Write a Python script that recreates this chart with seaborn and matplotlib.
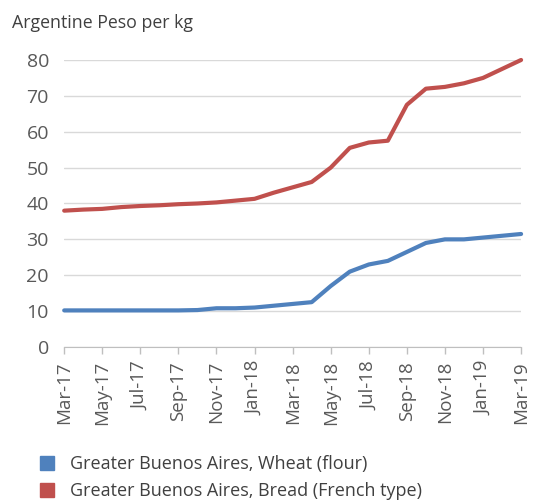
import numpy as np
import pandas as pd
import matplotlib
matplotlib.use("Agg")
import matplotlib.pyplot as plt
from matplotlib.lines import Line2D
import seaborn as sns

MONTHS = ['Mar-17', 'Apr-17', 'May-17', 'Jun-17', 'Jul-17', 'Aug-17', 'Sep-17',
          'Oct-17', 'Nov-17', 'Dec-17', 'Jan-18', 'Feb-18', 'Mar-18', 'Apr-18',
          'May-18', 'Jun-18', 'Jul-18', 'Aug-18', 'Sep-18', 'Oct-18', 'Nov-18',
          'Dec-18', 'Jan-19', 'Feb-19', 'Mar-19']

WHEAT = [10.2, 10.2, 10.2, 10.2, 10.2, 10.2, 10.2, 10.3, 10.8, 10.8, 11.0,
         11.5, 12.0, 12.5, 17.0, 21.0, 23.0, 24.0, 26.5, 29.0, 30.0, 30.0,
         30.5, 31.0, 31.5]
BREAD = [38.0, 38.3, 38.5, 39.0, 39.3, 39.5, 39.8, 40.0, 40.3, 40.8, 41.3,
         43.0, 44.5, 46.0, 50.0, 55.5, 57.0, 57.5, 67.5, 72.0, 72.5, 73.5,
         75.0, 77.5, 80.0]

SERIES = ['Greater Buenos Aires, Wheat (flour)',
          'Greater Buenos Aires, Bread (French type)']
COLORS = ['#4F81BD', '#C0504D']

df = pd.concat([
    pd.DataFrame({'idx': range(len(MONTHS)), 'price': WHEAT, 'series': SERIES[0]}),
    pd.DataFrame({'idx': range(len(MONTHS)), 'price': BREAD, 'series': SERIES[1]}),
])

sns.set_style('white')
plt.rcParams['font.family'] = ['Open Sans', 'DejaVu Sans']
text_col = '#595959'

fig = plt.figure(figsize=(5.35, 5.04), dpi=100)
ax = fig.add_axes([0.12, 0.3115, 0.854, 0.5695])

sns.lineplot(data=df, x='idx', y='price', hue='series', palette=COLORS,
             linewidth=3, ax=ax, legend=False, clip_on=False)

ax.set_xlim(0, len(MONTHS) - 1)
ax.set_ylim(0, 80)
ax.set_yticks(range(0, 81, 10))
ax.yaxis.grid(True, color='#D9D9D9', linewidth=1)
ax.set_axisbelow(True)
ax.set_xticks(range(0, len(MONTHS), 2))
ax.set_xticklabels(MONTHS[::2], rotation=90, fontsize=13.5, color=text_col)
ax.tick_params(axis='y', length=0, labelsize=14, labelcolor=text_col, pad=11)
ax.tick_params(axis='x', length=5, width=1, color='#BFBFBF', pad=5, bottom=True)
ax.set_xlabel('')
ax.set_ylabel('')
for s in ['top', 'right', 'left']:
    ax.spines[s].set_visible(False)
ax.spines['bottom'].set_color('#BFBFBF')

fig.text(0.022, 0.955, 'Argentine Peso per kg', fontsize=12.8, color='#404040',
         ha='left', va='center')

handles = [Line2D([], [], marker='s', linestyle='', color=c, markersize=10)
           for c in COLORS]
fig.legend(handles, SERIES, loc='center left', bbox_to_anchor=(0.055, 0.052),
           frameon=False, fontsize=13, labelcolor='#404040', borderpad=0,
           handlelength=2, handletextpad=0.25, labelspacing=0.5, borderaxespad=0)

fig.savefig('out.png', dpi=100)
